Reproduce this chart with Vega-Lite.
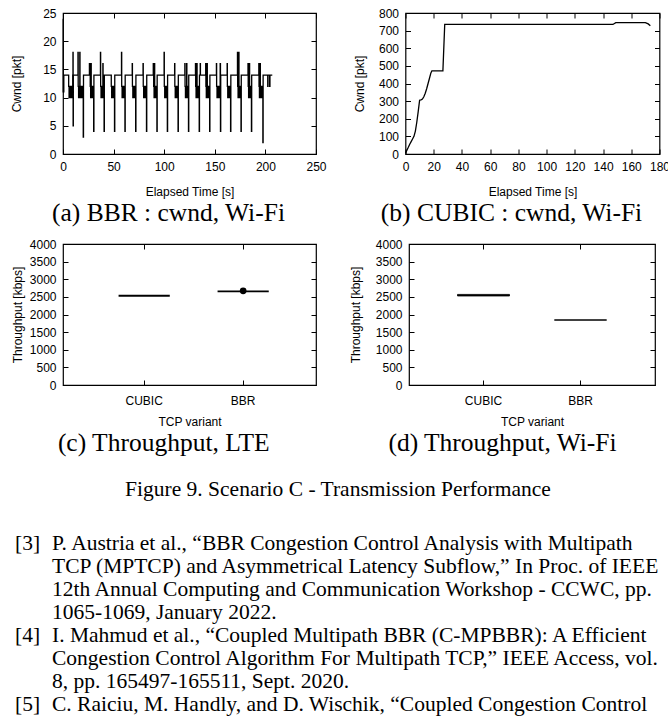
{
  "$schema": "https://vega.github.io/schema/vega-lite/v6.json",
  "padding": {"left": 10, "top": 6, "right": 0, "bottom": 0},
  "background": "white",
  "config": {
    "view": {"stroke": "black", "strokeWidth": 1.2},
    "axis": {"grid": false, "domain": false, "tickColor": "black", "tickSize": -5, "tickWidth": 1, "labelFont": "Liberation Sans", "labelFontSize": 12, "labelColor": "black", "labelFlush": false, "labelOverlap": false, "titleFont": "Liberation Sans", "titleFontSize": 12, "titleFontWeight": "normal", "titleColor": "black"},
    "axisBottom": {"labelPadding": 12.5, "titlePadding": 14},
    "axisLeft": {"labelPadding": 12, "titlePadding": 14},
    "axisTop": {"labels": false},
    "axisRight": {"labels": false},
    "title": {"font": "Liberation Serif", "fontWeight": "normal", "color": "black", "frame": "bounds"}
  },
  "datasets": {
    "bbr": [
      {"t":0,"w":24},{"t":0.2,"w":11},{"t":0.8,"w":14},
      {"t":5.6,"w":12},{"t":6.0,"w":10},{"t":6.4,"w":12},{"t":6.8,"w":10},{"t":7.2,"w":12},{"t":7.6,"w":10},{"t":8.0,"w":12},{"t":8.4,"w":10},{"t":8.8,"w":12},{"t":9.2,"w":10},{"t":9.6,"w":14},{"t":9.85,"w":18},{"t":10.0,"w":5},{"t":10.2,"w":14},
      {"t":14.8,"w":18},{"t":15.0,"w":12},{"t":15.4,"w":10},{"t":15.8,"w":12},{"t":16.2,"w":10},{"t":16.6,"w":18},{"t":16.8,"w":12},{"t":17.2,"w":10},{"t":17.6,"w":12},{"t":18.0,"w":10},{"t":18.4,"w":12},{"t":18.8,"w":10},{"t":19.2,"w":12},{"t":19.6,"w":10},{"t":20.0,"w":3},{"t":20.25,"w":14},
      {"t":26.1,"w":16},{"t":26.4,"w":14},{"t":26.9,"w":12},{"t":27.3,"w":10},{"t":27.7,"w":16},{"t":27.9,"w":12},{"t":28.3,"w":10},{"t":28.7,"w":12},{"t":29.1,"w":10},{"t":29.5,"w":12},{"t":29.9,"w":10},{"t":30.3,"w":4},{"t":30.55,"w":14},
      {"t":37.0,"w":18},{"t":37.2,"w":12},{"t":37.6,"w":10},{"t":38.0,"w":12},{"t":38.4,"w":10},{"t":38.8,"w":12},{"t":39.2,"w":10},{"t":39.4,"w":16},{"t":39.6,"w":12},{"t":40.0,"w":10},{"t":40.3,"w":12},{"t":40.6,"w":4},{"t":40.85,"w":14},
      {"t":47.7,"w":12},{"t":48.1,"w":10},{"t":48.5,"w":12},{"t":48.9,"w":10},{"t":49.3,"w":12},{"t":49.7,"w":10},{"t":50.1,"w":12},{"t":50.5,"w":10},{"t":50.9,"w":4},{"t":51.15,"w":14},
      {"t":57.8,"w":18},{"t":58.0,"w":12},{"t":58.4,"w":10},{"t":58.8,"w":12},{"t":59.2,"w":10},{"t":59.6,"w":12},{"t":60.0,"w":10},{"t":60.4,"w":12},{"t":60.8,"w":10},{"t":61.2,"w":4},{"t":61.45,"w":14},
      {"t":68.4,"w":16},{"t":68.6,"w":12},{"t":69.0,"w":10},{"t":69.4,"w":12},{"t":69.8,"w":10},{"t":70.2,"w":12},{"t":70.6,"w":10},{"t":71.0,"w":12},{"t":71.4,"w":10},{"t":71.8,"w":4},{"t":72.05,"w":14},
      {"t":79.1,"w":16},{"t":79.3,"w":12},{"t":79.7,"w":10},{"t":80.1,"w":12},{"t":80.5,"w":10},{"t":80.9,"w":12},{"t":81.3,"w":10},{"t":81.7,"w":12},{"t":82.1,"w":10},{"t":82.5,"w":4},{"t":82.75,"w":14},
      {"t":89.2,"w":16},{"t":89.4,"w":14},{"t":89.6,"w":12},{"t":90.0,"w":10},{"t":90.4,"w":16},{"t":90.6,"w":12},{"t":91.0,"w":10},{"t":91.4,"w":12},{"t":91.8,"w":10},{"t":92.2,"w":12},{"t":92.5,"w":10},{"t":92.8,"w":4},{"t":93.05,"w":14},
      {"t":99.9,"w":18},{"t":100.1,"w":12},{"t":100.5,"w":10},{"t":100.9,"w":12},{"t":101.3,"w":10},{"t":101.7,"w":12},{"t":102.1,"w":10},{"t":102.5,"w":12},{"t":102.8,"w":10},{"t":103.1,"w":4},{"t":103.35,"w":14},
      {"t":110.3,"w":16},{"t":110.5,"w":12},{"t":110.9,"w":10},{"t":111.3,"w":12},{"t":111.7,"w":10},{"t":112.1,"w":12},{"t":112.5,"w":10},{"t":112.9,"w":12},{"t":113.3,"w":10},{"t":113.7,"w":4},{"t":113.95,"w":14},
      {"t":120.4,"w":16},{"t":120.6,"w":12},{"t":121.0,"w":10},{"t":121.4,"w":12},{"t":121.8,"w":10},{"t":122.2,"w":16},{"t":122.4,"w":12},{"t":122.8,"w":10},{"t":123.2,"w":12},{"t":123.6,"w":10},{"t":124.0,"w":4},{"t":124.25,"w":14},
      {"t":130.9,"w":16},{"t":131.1,"w":12},{"t":131.5,"w":10},{"t":131.9,"w":12},{"t":132.3,"w":16},{"t":132.5,"w":12},{"t":132.9,"w":10},{"t":133.3,"w":12},{"t":133.7,"w":10},{"t":134.1,"w":12},{"t":134.3,"w":10},{"t":134.6,"w":4},{"t":134.85,"w":14},
      {"t":135.6,"w":16},{"t":135.8,"w":14},{"t":141.0,"w":16},{"t":141.2,"w":12},{"t":141.6,"w":10},{"t":142.0,"w":12},{"t":142.4,"w":16},{"t":142.6,"w":12},{"t":143.0,"w":10},{"t":143.4,"w":12},{"t":143.8,"w":10},{"t":144.2,"w":12},{"t":144.5,"w":10},{"t":144.9,"w":4},{"t":145.15,"w":14},
      {"t":151.6,"w":16},{"t":151.8,"w":12},{"t":152.2,"w":10},{"t":152.6,"w":12},{"t":153.0,"w":10},{"t":153.4,"w":12},{"t":153.8,"w":10},{"t":154.2,"w":12},{"t":154.6,"w":10},{"t":155.0,"w":12},{"t":155.3,"w":16},{"t":155.6,"w":4},{"t":155.85,"w":14},
      {"t":162.2,"w":16},{"t":162.4,"w":12},{"t":162.8,"w":10},{"t":163.2,"w":12},{"t":163.6,"w":10},{"t":164.0,"w":12},{"t":164.4,"w":10},{"t":164.8,"w":12},{"t":165.2,"w":10},{"t":165.6,"w":4},{"t":165.85,"w":14},
      {"t":172.4,"w":18},{"t":172.6,"w":12},{"t":173.0,"w":10},{"t":173.4,"w":12},{"t":173.7,"w":18},{"t":173.9,"w":12},{"t":174.3,"w":10},{"t":174.7,"w":12},{"t":175.1,"w":10},{"t":175.5,"w":12},{"t":175.7,"w":10},{"t":175.9,"w":4},{"t":176.15,"w":14},
      {"t":182.8,"w":16},{"t":183.0,"w":12},{"t":183.4,"w":10},{"t":183.8,"w":12},{"t":184.2,"w":16},{"t":184.4,"w":12},{"t":184.8,"w":10},{"t":185.2,"w":12},{"t":185.6,"w":10},{"t":185.9,"w":12},{"t":186.0,"w":10},{"t":186.2,"w":4},{"t":186.45,"w":14},
      {"t":193.5,"w":16},{"t":193.7,"w":12},{"t":194.1,"w":10},{"t":194.5,"w":12},{"t":194.8,"w":16},{"t":195.0,"w":12},{"t":195.4,"w":10},{"t":195.8,"w":12},{"t":196.2,"w":10},{"t":196.6,"w":12},{"t":197.0,"w":10},{"t":197.5,"w":2},{"t":197.75,"w":14},
      {"t":202.3,"w":12},{"t":202.6,"w":14},{"t":204.2,"w":12},{"t":204.5,"w":14},{"t":206.8,"w":14}
    ],
    "cubic": [
      {"t":0,"w":5},{"t":1,"w":22},{"t":2,"w":38},{"t":3,"w":55},{"t":4,"w":70},{"t":5,"w":85},{"t":6,"w":100},{"t":7,"w":130},{"t":8,"w":180},{"t":9,"w":240},{"t":10,"w":305},{"t":11,"w":307},{"t":12,"w":312},{"t":13,"w":325},{"t":14,"w":345},{"t":15,"w":370},{"t":16,"w":400},{"t":17,"w":430},{"t":18,"w":460},{"t":18.7,"w":472},{"t":26.5,"w":472},{"t":27.8,"w":735},{"t":147,"w":735},{"t":149,"w":745},{"t":170,"w":745},{"t":172,"w":738},{"t":173.5,"w":728}
    ],
    "lte": [
      {"v":"CUBIC","q1":2524,"q3":2540},
      {"v":"BBR","q1":2650,"q3":2664,"out":2672}
    ],
    "wifi": [
      {"v":"CUBIC","q1":2525,"q3":2570},
      {"v":"BBR","q1":1839,"q3":1848}
    ],
    "refs": [
      {"line":1,"num":"[3]","body":"P. Austria et al., “BBR Congestion Control Analysis with Multipath"},
      {"line":2,"num":"","body":"TCP (MPTCP) and Asymmetrical Latency Subflow,”  In Proc. of IEEE"},
      {"line":3,"num":"","body":"12th Annual Computing and Communication Workshop - CCWC, pp."},
      {"line":4,"num":"","body":"1065-1069, January 2022."},
      {"line":5,"num":"[4]","body":"I. Mahmud et al., “Coupled Multipath BBR (C-MPBBR): A Efficient"},
      {"line":6,"num":"","body":"Congestion Control Algorithm For Multipath TCP,”  IEEE Access, vol."},
      {"line":7,"num":"","body":"8, pp. 165497-165511, Sept. 2020."},
      {"line":8,"num":"[5]","body":"C. Raiciu, M. Handly, and D. Wischik, “Coupled Congestion Control"}
    ]
  },
  "columns": 1,
  "align": "none",
  "spacing": 21,
  "concat": [
    {
      "columns": 1,
      "align": "none",
      "spacing": 10,
      "concat": [
        {
          "spacing": 25.5,
          "hconcat": [
            {
              "width": 253, "height": 141,
              "title": {"text": "(a) BBR : cwnd, Wi-Fi", "orient": "bottom", "offset": 3, "fontSize": 25.5},
              "data": {"name": "bbr"},
              "resolve": {"axis": {"x": "independent", "y": "independent"}},
              "layer": [
                {
                  "mark": {"type": "line", "interpolate": "step-after", "color": "black", "strokeWidth": 1.3},
                  "encoding": {
                    "x": {"field": "t", "type": "quantitative", "scale": {"domain": [0, 250], "nice": false}, "axis": {"orient": "bottom", "values": [0, 50, 100, 150, 200, 250], "title": "Elapsed Time [s]", "format": "d"}},
                    "y": {"field": "w", "type": "quantitative", "scale": {"domain": [0, 25], "nice": false}, "axis": {"orient": "left", "values": [0, 5, 10, 15, 20, 25], "title": "Cwnd [pkt]", "format": "d", "titlePadding": 18.7}}
                  }
                },
                {
                  "mark": {"type": "point", "opacity": 0},
                  "encoding": {
                    "x": {"field": "t", "type": "quantitative", "axis": {"orient": "top", "values": [0, 50, 100, 150, 200, 250], "title": null, "labels": false}},
                    "y": {"field": "w", "type": "quantitative", "axis": {"orient": "right", "values": [0, 5, 10, 15, 20, 25], "title": null, "labels": false}}
                  }
                }
              ]
            },
            {
              "width": 254, "height": 141,
              "title": {"text": "(b) CUBIC : cwnd, Wi-Fi", "orient": "bottom", "offset": 3, "fontSize": 25.5},
              "data": {"name": "cubic"},
              "resolve": {"axis": {"x": "independent", "y": "independent"}},
              "layer": [
                {
                  "mark": {"type": "line", "color": "black", "strokeWidth": 1.3},
                  "encoding": {
                    "x": {"field": "t", "type": "quantitative", "scale": {"domain": [0, 180], "nice": false}, "axis": {"orient": "bottom", "values": [0, 20, 40, 60, 80, 100, 120, 140, 160, 180], "title": "Elapsed Time [s]", "format": "d"}},
                    "y": {"field": "w", "type": "quantitative", "scale": {"domain": [0, 800], "nice": false}, "axis": {"orient": "left", "values": [0, 100, 200, 300, 400, 500, 600, 700, 800], "title": "Cwnd [pkt]", "format": "d", "titlePadding": 12}}
                  }
                },
                {
                  "mark": {"type": "point", "opacity": 0},
                  "encoding": {
                    "x": {"field": "t", "type": "quantitative", "axis": {"orient": "top", "values": [0, 20, 40, 60, 80, 100, 120, 140, 160, 180], "title": null, "labels": false}},
                    "y": {"field": "w", "type": "quantitative", "axis": {"orient": "right", "values": [0, 100, 200, 300, 400, 500, 600, 700, 800], "title": null, "labels": false}}
                  }
                }
              ]
            }
          ]
        },
        {
          "spacing": 30,
          "hconcat": [
            {
              "width": 253, "height": 141,
              "title": {"text": "(c) Throughput, LTE", "orient": "bottom", "offset": 3, "fontSize": 25.5},
              "data": {"name": "lte"},
              "resolve": {"axis": {"x": "independent", "y": "independent"}},
              "layer": [
                {
                  "mark": {"type": "bar", "fill": "black", "stroke": "black", "strokeWidth": 1.2},
                  "encoding": {
                    "x": {"field": "v", "type": "nominal", "sort": ["CUBIC", "BBR"], "scale": {"type": "band", "paddingInner": 0.495, "paddingOuter": 0.5255, "align": 0.54}, "axis": {"orient": "bottom", "title": "TCP variant", "labelAngle": 0, "labelPadding": 15.5, "titlePadding": 10}},
                    "y": {"field": "q1", "type": "quantitative", "scale": {"domain": [0, 4000], "nice": false}, "axis": {"orient": "left", "values": [0, 500, 1000, 1500, 2000, 2500, 3000, 3500, 4000], "title": "Throughput [kbps]", "format": "d", "titlePadding": 5.3}},
                    "y2": {"field": "q3"}
                  }
                },
                {
                  "mark": {"type": "point", "filled": true, "color": "black", "size": 45, "opacity": 1},
                  "encoding": {
                    "x": {"field": "v", "type": "nominal", "sort": ["CUBIC", "BBR"], "axis": {"orient": "top", "title": null, "labels": false}},
                    "y": {"field": "out", "type": "quantitative", "axis": {"orient": "right", "values": [0, 500, 1000, 1500, 2000, 2500, 3000, 3500, 4000], "title": null, "labels": false}}
                  }
                }
              ]
            },
            {
              "width": 246, "height": 141,
              "title": {"text": "(d) Throughput, Wi-Fi", "orient": "bottom", "offset": 3, "fontSize": 25.5},
              "data": {"name": "wifi"},
              "resolve": {"axis": {"x": "independent", "y": "independent"}},
              "layer": [
                {
                  "mark": {"type": "bar", "fill": "black", "stroke": "black", "strokeWidth": 0.8},
                  "encoding": {
                    "x": {"field": "v", "type": "nominal", "sort": ["CUBIC", "BBR"], "scale": {"type": "band", "paddingInner": 0.464, "paddingOuter": 0.5}, "axis": {"orient": "bottom", "title": "TCP variant", "labelAngle": 0, "labelPadding": 15.5, "titlePadding": 10}},
                    "y": {"field": "q1", "type": "quantitative", "scale": {"domain": [0, 4000], "nice": false}, "axis": {"orient": "left", "values": [0, 500, 1000, 1500, 2000, 2500, 3000, 3500, 4000], "title": "Throughput [kbps]", "format": "d", "titlePadding": 12.8}},
                    "y2": {"field": "q3"}
                  }
                },
                {
                  "mark": {"type": "point", "opacity": 0},
                  "encoding": {
                    "x": {"field": "v", "type": "nominal", "sort": ["CUBIC", "BBR"], "axis": {"orient": "top", "title": null, "labels": false}},
                    "y": {"field": "q1", "type": "quantitative", "axis": {"orient": "right", "values": [0, 500, 1000, 1500, 2000, 2500, 3000, 3500, 4000], "title": null, "labels": false}}
                  }
                }
              ]
            }
          ]
        }
      ]
    },
    {
      "width": 550,
      "height": {"step": 23},
      "view": {"stroke": null},
      "title": {"text": "Figure 9.  Scenario C - Transmission Performance", "orient": "top", "anchor": "middle", "frame": "group", "fontSize": 21.5, "offset": 32},
      "data": {"name": "refs"},
      "encoding": {"y": {"field": "line", "type": "ordinal", "axis": null}},
      "layer": [
        {
          "mark": {"type": "text", "align": "left", "baseline": "middle", "font": "Liberation Serif", "fontSize": 21.5, "color": "black"},
          "encoding": {
            "x": {"datum": "num", "type": "nominal", "scale": {"type": "point", "domain": ["num", "body"], "range": [-48, -11], "padding": 0}, "axis": null},
            "text": {"field": "num"}
          }
        },
        {
          "mark": {"type": "text", "align": "left", "baseline": "middle", "font": "Liberation Serif", "fontSize": 21.5, "color": "black"},
          "encoding": {
            "x": {"datum": "body", "type": "nominal"},
            "text": {"field": "body"}
          }
        }
      ]
    }
  ]
}
